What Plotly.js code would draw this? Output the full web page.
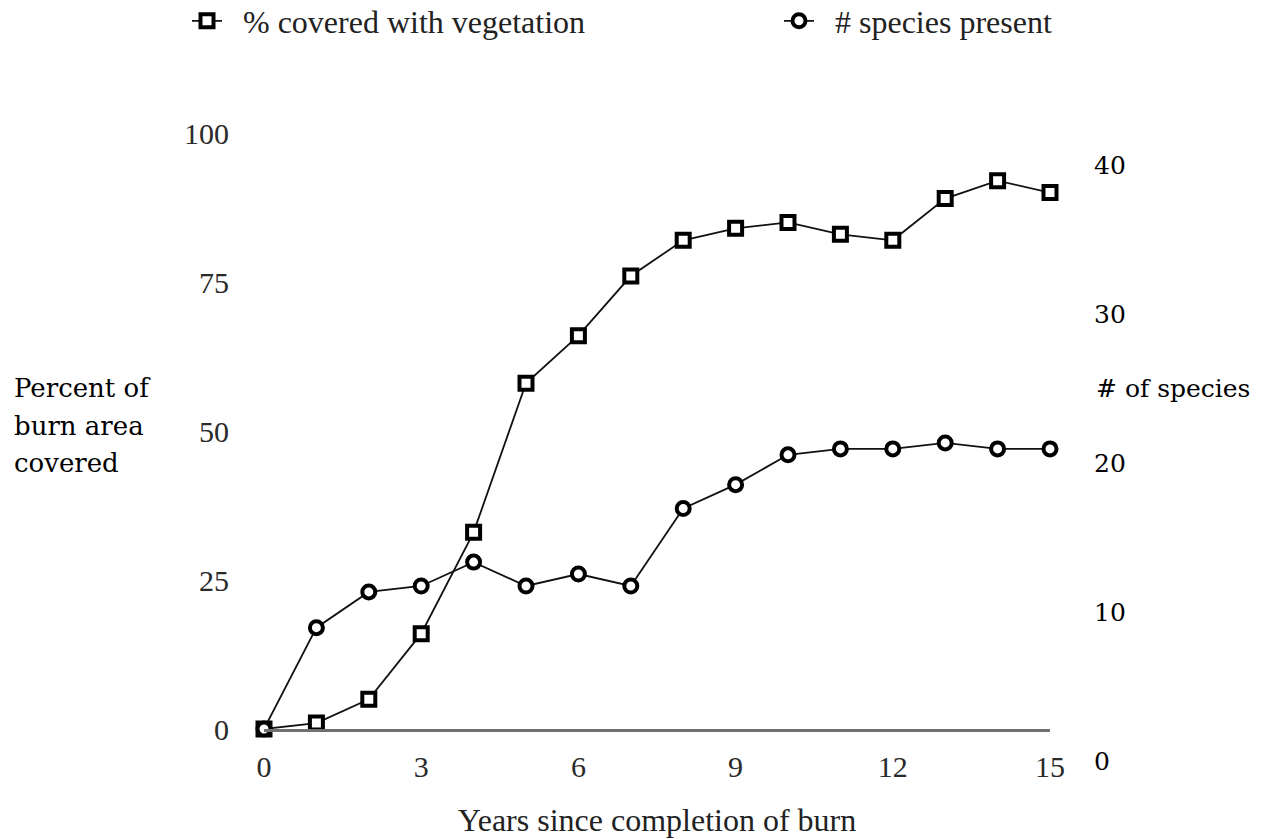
<!DOCTYPE html>
<html>
<head>
<meta charset="utf-8">
<script src="https://cdn.plot.ly/plotly-3.0.1.min.js"></script>
<style>
  html, body { margin: 0; padding: 0; background: #ffffff; }
  #chart { width: 1265px; height: 839px; }
</style>
</head>
<body>
<div id="chart"></div>
<script>
// ---- data ----
const years = [0, 1, 2, 3, 4, 5, 6, 7, 8, 9, 10, 11, 12, 13, 14, 15];
const pctCovered = [0, 1, 5, 16, 33, 58, 66, 76, 82, 84, 85, 83, 82, 89, 92, 90];
const speciesPresent = [0, 6.8, 9.2, 9.6, 11.2, 9.6, 10.4, 9.6, 14.8, 16.4, 18.4, 18.8, 18.8, 19.2, 18.8, 18.8];
const xTicks = [0, 3, 6, 9, 12, 15];
const leftTicks = [0, 25, 50, 75, 100];
const rightTicks = [0, 10, 20, 30, 40];
const seriesNames = ['% covered with vegetation', '# species present'];
const leftTitleLines = ['Percent of', 'burn area', 'covered'];
const rightTitle = '# of species';
const xTitle = 'Years since completion of burn';

const serif = 'Liberation Serif, Times New Roman, serif';
const altSerif = 'DejaVu Serif, serif';
const gap = '\u2002'; // visual gap between legend symbol and its text

const traces = [
  {
    x: years, y: speciesPresent, yaxis: 'y2', name: gap + seriesNames[1],
    type: 'scatter', mode: 'lines+markers', cliponaxis: false,
    legend: 'legend2',
    line: { color: '#111111', width: 1.8 },
    marker: { symbol: 'circle', size: 13, color: '#ffffff', line: { color: '#000000', width: 4 } }
  },
  {
    x: years, y: pctCovered, yaxis: 'y', name: gap + seriesNames[0],
    type: 'scatter', mode: 'lines+markers', cliponaxis: false,
    legend: 'legend',
    line: { color: '#111111', width: 1.8 },
    marker: { symbol: 'square', size: 13, color: '#ffffff', line: { color: '#000000', width: 4 } }
  }
];

const W = 1265, H = 839;
const L = 264, R = 1050, T = 133, B = 729;
const pw = R - L, ph = B - T;
const px = v => (v - L) / pw;
const py = v => (B - v) / ph;

const annotations = [];
const leftYs = [388, 426, 463];
leftTitleLines.forEach((t, i) => {
  annotations.push({
    xref: 'paper', yref: 'paper', x: px(12), y: py(leftYs[i]),
    xanchor: 'left', yanchor: 'middle', showarrow: false, align: 'left',
    text: t, font: { family: altSerif, size: 26, color: '#000000' }
  });
});
annotations.push({
  xref: 'paper', yref: 'paper', x: px(1094), y: py(388),
  xanchor: 'left', yanchor: 'middle', showarrow: false, align: 'left',
  text: rightTitle, font: { family: altSerif, size: 25, color: '#000000' }
});

const layout = {
  width: W, height: H,
  paper_bgcolor: '#ffffff', plot_bgcolor: '#ffffff',
  margin: { l: L, r: W - R, t: T, b: H - B, pad: 0, autoexpand: false },
  showlegend: true,
  xaxis: {
    range: [0, 15], tickvals: xTicks, ticktext: xTicks.map(String),
    showgrid: false, zeroline: false, showline: true, linecolor: '#707070', linewidth: 3,
    ticks: '', ticklabelstandoff: 9, automargin: false,
    tickfont: { family: serif, size: 30, color: '#2a2a2a' },
    title: { text: xTitle, font: { family: serif, size: 32, color: '#222222' }, standoff: 27 }
  },
  yaxis: {
    range: [0, 100], tickvals: leftTicks, ticktext: leftTicks.map(String),
    showgrid: false, zeroline: false, showline: false, ticks: '',
    ticklabelstandoff: 34, automargin: false,
    tickfont: { family: serif, size: 30, color: '#2a2a2a' }
  },
  yaxis2: {
    overlaying: 'y', side: 'right', anchor: 'x',
    range: [0, 40], tickvals: rightTicks, ticktext: rightTicks.map(String),
    showgrid: false, zeroline: false, showline: false, ticks: '',
    ticklabelstandoff: 43, ticklabelshift: 32, automargin: false,
    tickfont: { family: altSerif, size: 25, color: '#000000' }
  },
  legend: {
    orientation: 'h', x: px(187), xanchor: 'left', y: py(21), yanchor: 'middle',
    bgcolor: 'rgba(0,0,0,0)', borderwidth: 0, itemwidth: 30,
    font: { family: serif, size: 32, color: '#222222' }
  },
  legend2: {
    orientation: 'h', x: px(779), xanchor: 'left', y: py(21), yanchor: 'middle',
    bgcolor: 'rgba(0,0,0,0)', borderwidth: 0, itemwidth: 30,
    font: { family: serif, size: 32, color: '#222222' }
  },
  annotations: annotations,
  hovermode: false
};

Plotly.newPlot('chart', traces, layout, { displayModeBar: false, staticPlot: true });
</script>
</body>
</html>
